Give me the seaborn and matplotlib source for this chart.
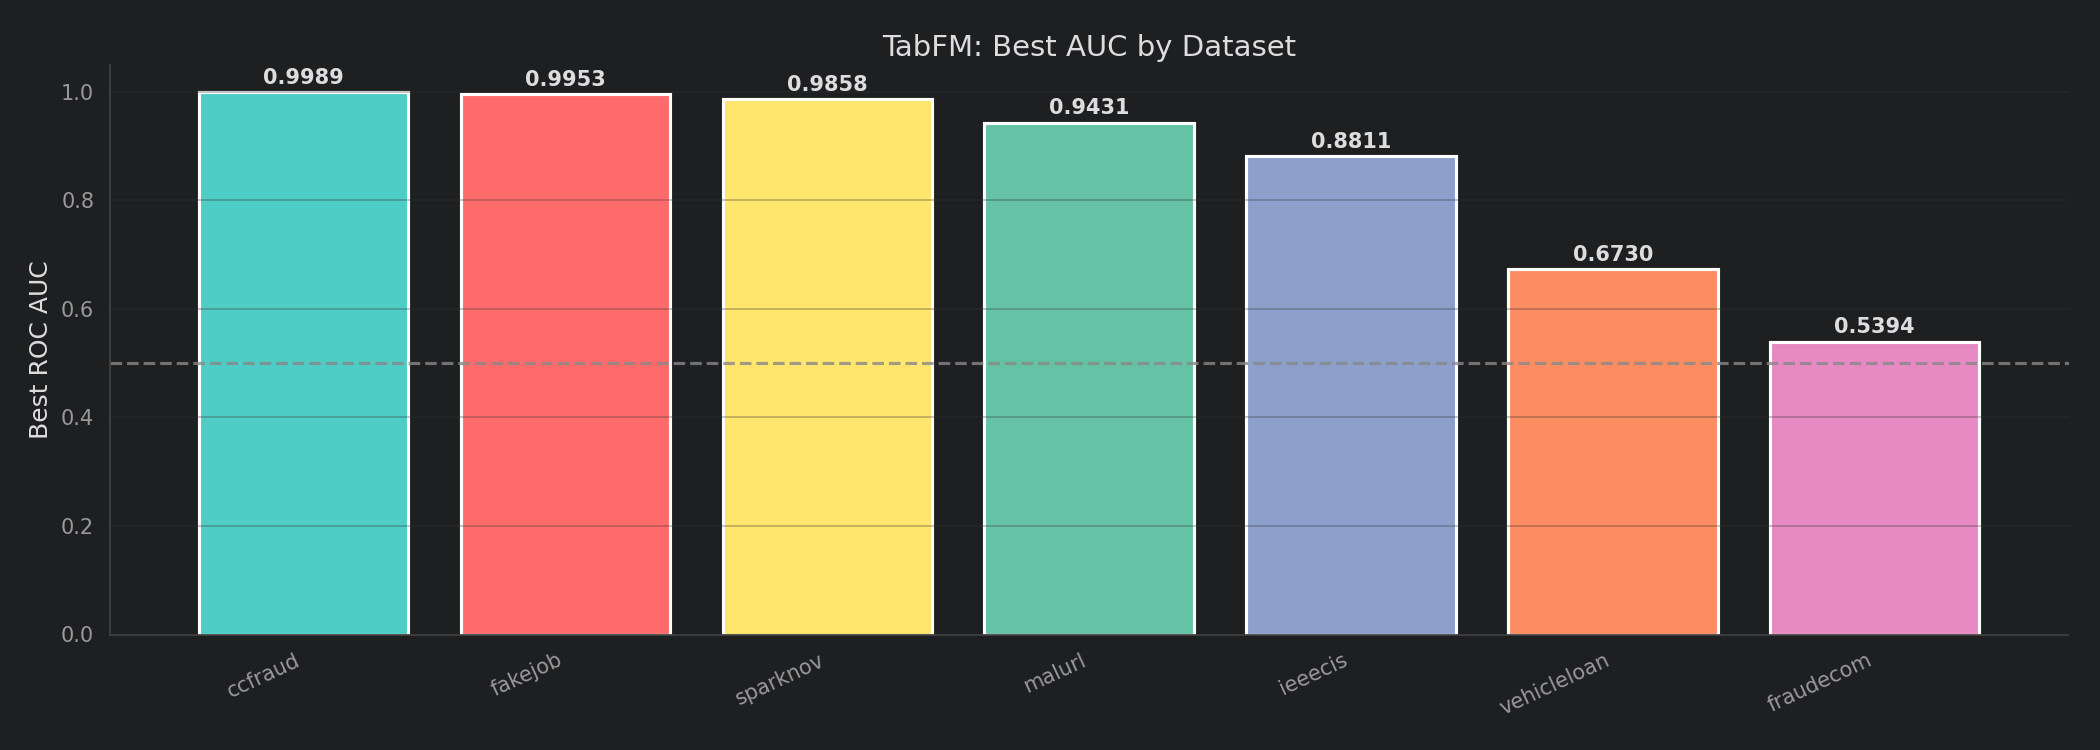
import matplotlib
matplotlib.use("Agg")
import matplotlib.pyplot as plt
import seaborn as sns
import pandas as pd

# data
datasets = ["ccfraud", "fakejob", "sparknov", "malurl", "ieeecis", "vehicleloan", "fraudecom"]
best_auc = [0.9989, 0.9953, 0.9858, 0.9431, 0.8811, 0.6730, 0.5394]
bar_colors = ["#4ECDC4", "#FF6B6B", "#FFE66D", "#66C2A5", "#8DA0CB", "#FC8D62", "#E78AC3"]

df = pd.DataFrame({"dataset": datasets, "auc": best_auc})

bg = "#1e1f21"
sns.set_style("dark")
plt.rcParams["font.family"] = ["DejaVu Sans"]

fig, ax = plt.subplots(figsize=(14, 5), dpi=150)
fig.patch.set_facecolor(bg)
ax.set_facecolor(bg)

sns.barplot(data=df, x="dataset", y="auc", hue="dataset", palette=bar_colors,
            saturation=1, legend=False, edgecolor="white", linewidth=1.5, ax=ax)

# grid sits on top of the bars, as in the original
ax.set_axisbelow(False)
ax.grid(axis="y", color="#333333", linewidth=0.9, alpha=0.3)
ax.grid(axis="x", visible=False)

for patch, val in zip(ax.patches, best_auc):
    ax.text(patch.get_x() + patch.get_width() / 2, val + 0.008, f"{val:.4f}",
            ha="center", va="bottom", fontsize=10, fontweight="bold", color="#dddddd")

ax.axhline(0.5, color="#888888", linestyle="--", linewidth=1.5, alpha=0.8)

ax.set_xlim(-0.74, 6.74)
ax.set_ylim(0, 1.05)
ax.set_title("TabFM: Best AUC by Dataset", fontsize=14, color="#dddddd", pad=4)
ax.set_ylabel("Best ROC AUC", fontsize=12, color="#dddddd")
ax.set_xlabel("")
ax.tick_params(axis="both", colors="#999999", labelsize=10, length=4)
ax.tick_params(axis="x", labelrotation=25)
for lbl in ax.get_xticklabels():
    lbl.set_ha("right")

for side in ["top", "right"]:
    ax.spines[side].set_visible(False)
for side in ["left", "bottom"]:
    ax.spines[side].set_color("#444444")

plt.subplots_adjust(left=0.0523, right=0.985, top=0.914, bottom=0.154)
plt.savefig("out.png", facecolor=bg)
